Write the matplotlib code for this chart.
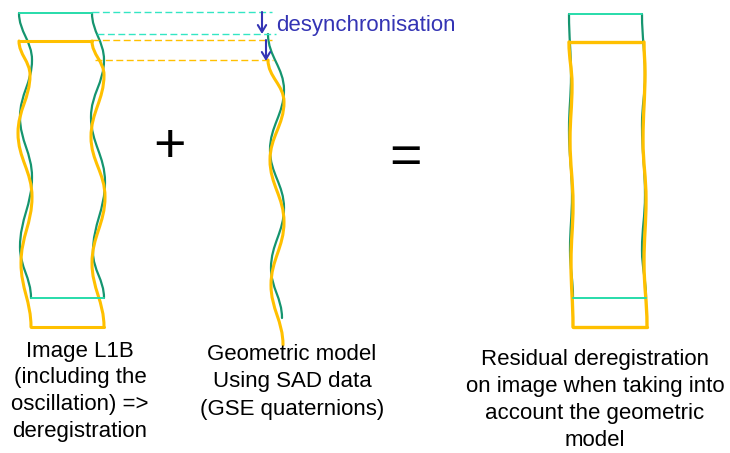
import matplotlib
matplotlib.use("Agg")
import matplotlib.pyplot as plt
from matplotlib.path import Path
from matplotlib.patches import PathPatch

plt.rcParams['font.family'] = ['Liberation Sans', 'DejaVu Sans']

# ---- data: wave extremum points (x, y) in pixel units of the diagram ----
# Left block "Image L1B"
l1b_green_left = [(19, 13), (32, 60), (20, 117), (32, 177), (20, 247), (31, 298)]
l1b_green_right = [(92, 13), (104, 60), (91, 117), (105, 182), (93, 252), (104, 298)]
l1b_yellow_left = [(19, 41), (30, 75), (18, 133), (32, 197), (21, 263), (31, 327)]
l1b_yellow_right = [(92, 41), (104, 75), (91, 137), (105, 197), (92, 263), (104, 327)]
l1b_green_top = [(19, 13), (92, 13)]
l1b_green_bottom = [(31, 298), (104, 298)]
l1b_yellow_top = [(19, 41), (92, 41)]
l1b_yellow_bottom = [(31, 327), (104, 327)]

# Middle "Geometric model"
geo_green = [(268, 34), (284, 90), (270, 150), (284, 208), (271, 268), (282, 318)]
geo_yellow = [(268, 60), (284, 102), (270, 160), (284, 222), (271, 285), (283, 345)]

# Right "Residual deregistration"
res_green_left = [(569, 14), (571, 75), (569, 130), (572, 195), (570, 250), (573, 298)]
res_green_right = [(642, 14), (645, 75), (642, 125), (645, 195), (642, 250), (646, 298)]
res_yellow_left = [(569, 42), (572, 85), (570, 140), (573, 205), (571, 262), (573, 327)]
res_yellow_right = [(644, 42), (645, 72), (643, 140), (646, 200), (644, 262), (647, 326)]
res_green_top = [(569, 14), (642, 14)]
res_green_bottom = [(573, 298), (646, 298)]
res_yellow_top = [(569, 42), (641, 42)]
res_yellow_bottom = [(573, 327), (647, 327)]

# Dashed sync guides
dash_green = [((92, 12), (272, 12)), ((97, 34), (276, 34))]
dash_yellow = [((92, 40), (272, 40)), ((95, 60), (273, 60))]
arrows = [((262, 12), (262, 34)), ((266, 40), (266, 61))]

label_desync = "desynchronisation"
label_l1b = ["Image L1B", "(including the", "oscillation) =>", "deregistration"]
label_geo = ["Geometric model", "Using SAD data", "(GSE quaternions)"]
label_res = ["Residual deregistration", "on image when taking into", "account the geometric", "model"]

GREEN = "#15956f"
GREEN_LIGHT = "#27dcaa"
GREEN_DASH = "#33e6c4"
YELLOW = "#ffc000"
BLUE = "#3434b4"

fig = plt.figure(figsize=(7.3, 4.53), dpi=100)
ax = fig.add_axes([0, 0, 1, 1])
ax.set_xlim(0, 730)
ax.set_ylim(453, 0)
ax.axis('off')


def wave(ax, pts, color, lw):
    verts = [pts[0]]
    codes = [Path.MOVETO]
    for (x1, y1), (x2, y2) in zip(pts[:-1], pts[1:]):
        d = 0.4 * (y2 - y1)
        verts += [(x1, y1 + d), (x2, y2 - d), (x2, y2)]
        codes += [Path.CURVE4] * 3
    ax.add_patch(PathPatch(Path(verts, codes), facecolor='none', edgecolor=color,
                           lw=lw, capstyle='round', joinstyle='round'))


def straight(ax, pts, color, lw, **kw):
    ax.plot([p[0] for p in pts], [p[1] for p in pts], color=color, lw=lw,
            solid_capstyle='round', **kw)


# Left block
straight(ax, l1b_green_top, GREEN_LIGHT, 1.4)
straight(ax, l1b_green_bottom, GREEN_LIGHT, 1.4)
wave(ax, l1b_green_left, GREEN, 1.6)
wave(ax, l1b_green_right, GREEN, 1.6)
straight(ax, l1b_yellow_top, YELLOW, 2.2)
straight(ax, l1b_yellow_bottom, YELLOW, 2.2)
wave(ax, l1b_yellow_left, YELLOW, 2.2)
wave(ax, l1b_yellow_right, YELLOW, 2.2)

# Middle
wave(ax, geo_green, GREEN, 1.6)
wave(ax, geo_yellow, YELLOW, 2.2)

# Right block
straight(ax, res_green_top, GREEN_LIGHT, 1.4)
straight(ax, res_green_bottom, GREEN_LIGHT, 1.4)
wave(ax, res_green_left, GREEN, 1.6)
wave(ax, res_green_right, GREEN, 1.6)
straight(ax, res_yellow_top, YELLOW, 2.4)
straight(ax, res_yellow_bottom, YELLOW, 2.4)
wave(ax, res_yellow_left, YELLOW, 2.4)
wave(ax, res_yellow_right, YELLOW, 2.4)

# Dashed guides
for a, b in dash_green:
    ax.plot([a[0], b[0]], [a[1], b[1]], color=GREEN_DASH, lw=1.0, dashes=(5, 2.5))
for a, b in dash_yellow:
    ax.plot([a[0], b[0]], [a[1], b[1]], color=YELLOW, lw=1.0, dashes=(5, 2.5))

for a, b in arrows:
    ax.annotate("", xy=b, xytext=a,
                arrowprops=dict(arrowstyle="->,head_length=0.5,head_width=0.3",
                                color=BLUE, lw=1.5, shrinkA=0, shrinkB=0))

ax.text(276, 31, label_desync, color=BLUE, fontsize=16, ha='left', va='baseline')

# Operators
ax.text(169, 162, "+", fontsize=40, ha='center', va='baseline', color='black')
ax.text(405, 173, "=", fontsize=40, ha='center', va='baseline', color='black')

# Captions
for i, s in enumerate(label_l1b):
    ax.text(80, 357 + 26.5 * i, s, fontsize=16, ha='center', va='baseline')
for i, s in enumerate(label_geo):
    ax.text(292, 360 + 27.5 * i, s, fontsize=16, ha='center', va='baseline')
for i, s in enumerate(label_res):
    ax.text(595, 365 + 27 * i, s, fontsize=16, ha='center', va='baseline')

fig.savefig("out.png", dpi=100)
